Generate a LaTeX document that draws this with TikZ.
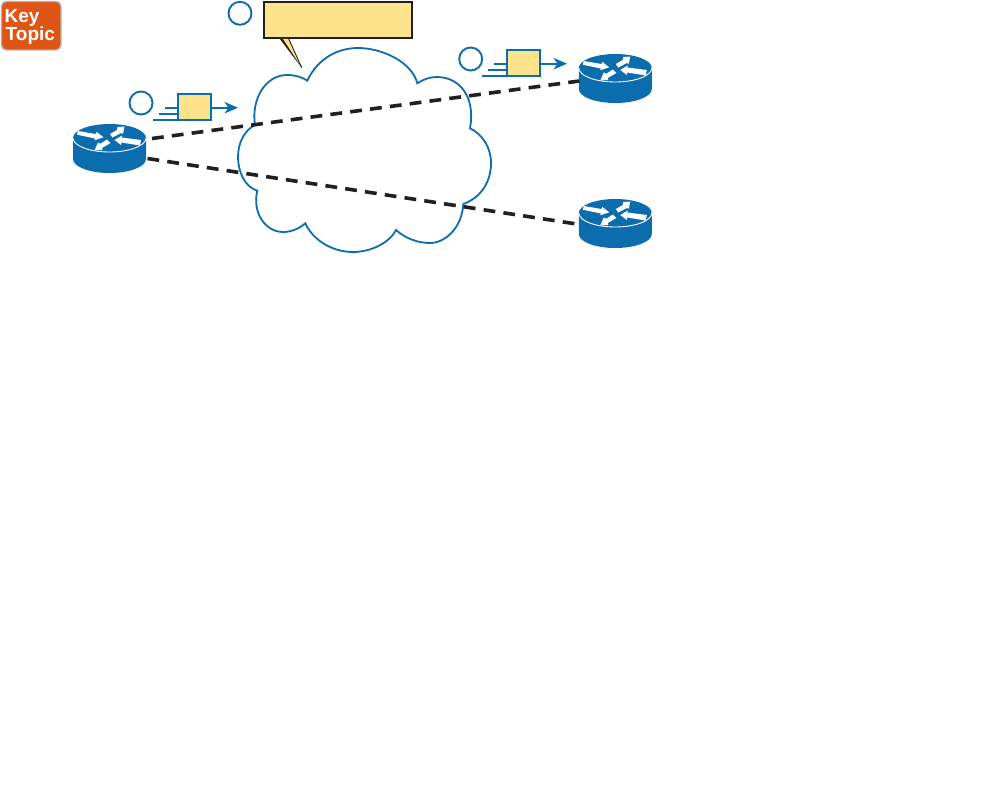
\documentclass[tikz,border=0pt]{standalone}
\usepackage{fontspec}
\setsansfont{Liberation Sans}
\usetikzlibrary{arrows.meta}
\definecolor{ciscoblue}{HTML}{0C6DAE}
\definecolor{noteyellow}{HTML}{FDE38B}
\definecolor{inkdark}{HTML}{231F20}
\definecolor{keyorange}{HTML}{DF5516}
\definecolor{keyrim}{HTML}{B5B0AB}
\tikzset{
  routerbox/.style={minimum width=73pt,minimum height=49pt,inner sep=0pt,outer sep=0pt},
  routerdraw/.pic={
    \fill[ciscoblue] (-36.5,-10.5) -- (-36.5,10.5) arc[start angle=180,end angle=360,x radius=36.5,y radius=-14] -- (36.5,-10.5) -- cycle;
    \fill[ciscoblue] (0,-10.5) ellipse[x radius=36.5,y radius=14];
    \draw[white,line width=0.9pt] (-36.5,-10.5) arc[start angle=180,end angle=360,x radius=36.5,y radius=-14];
    \fill[white] (-31.5,-17.5)--(-14,-14.5)--(-12.8,-16.5)--(-6,-11.2)--(-15,-8.2)--(-14.5,-10)--(-32.5,-13.8)--cycle;
    \fill[white] (0.5,-14.5)--(7.5,-18.5)--(8,-21.5)--(15,-22)--(13.5,-14.8)--(11.5,-15.5)--(3,-11)--cycle;
    \fill[white] (-2.5,-9)--(-9,-4.8)--(-11.5,-6)--(-15,2)--(-7,1.5)--(-7.5,-0.5)--(1,-5.5)--cycle;
    \fill[white] (5,-8.5)--(12.5,-13)--(12,-11)--(31.5,-8.5)--(30.5,-3)--(12,-6)--(11.5,-3.5)--cycle;
  },
  link/.style={draw=inkdark,line width=3.6pt,dash pattern=on 11.8pt off 8.2pt},
  cloudline/.style={draw=ciscoblue,line width=1.8pt,line join=miter},
  stepcircle/.style={circle,draw=ciscoblue,line width=1.9pt,minimum size=23pt,inner sep=0pt},
  packet/.style={draw=ciscoblue,fill=noteyellow,line width=2pt,minimum width=33pt,minimum height=26pt,inner sep=0pt},
  speedline/.style={draw=ciscoblue,line width=1.7pt},
  flow/.style={draw=ciscoblue,line width=1.8pt,-{Stealth[length=13.5pt,width=11.5pt,inset=4pt]}},
  callout/.style={draw=inkdark,fill=noteyellow,line width=2pt,minimum width=148pt,minimum height=35.5pt,inner sep=0pt},
  keybox/.style={draw=keyrim,fill=keyorange,line width=1.4pt,rounded corners=5pt,minimum width=59.5pt,minimum height=48.5pt,inner sep=0pt},
  keytext/.style={text=white,font=\sffamily\bfseries\fontsize{19}{19}\selectfont,inner sep=0pt,anchor=base west}
}
\begin{document}
\begin{tikzpicture}[x=1pt,y=-1pt]
\useasboundingbox (0,0) rectangle (990,785);
% key topic
\node[keybox] (key) at (31.2,25.7) {};
\node[keytext] (keyw) at (4.5,22.7) {Key};
\node[keytext] (topicw) at (5.5,40.7) {Topic};
% cloud
\draw[cloudline,fill=white] (255,125)
 .. controls (251,100) and (265,75) .. (287,75)
 .. controls (295,75) and (302,77) .. (307.3,80.7)
 .. controls (318,58) and (338,48) .. (358,48)
 .. controls (382,48) and (412,62) .. (417.3,83.3)
 .. controls (424,79) and (430,77) .. (437,77)
 .. controls (458,77) and (476,95) .. (470,128.3)
 .. controls (482,134) and (491,147) .. (491,163)
 .. controls (491,183) and (480,198) .. (463.3,204)
 .. controls (462,228) and (445,243) .. (430,243)
 .. controls (417,243) and (405,238) .. (396,230)
 .. controls (390,242) and (372,252) .. (353,252)
 .. controls (332,252) and (313,240) .. (305.3,223.3)
 .. controls (300,228) and (292,232) .. (283,232)
 .. controls (265,232) and (252,212) .. (257.3,190.7)
 .. controls (245,187) and (238,172) .. (238,157)
 .. controls (238,142) and (245,130) .. (255,125) -- cycle;
% routers
\node[routerbox] (r1) at (109.5,148.5) {};
\node[routerbox] (r2) at (615.3,78.5) {};
\node[routerbox] (r3) at (615.3,223.5) {};
\pic at (r1.center) {routerdraw};
\pic at (r2.center) {routerdraw};
\pic at (r3.center) {routerdraw};
% links
\draw[link] ([shift={(6,-10)}]r1.east) -- ([shift={(0.5,2.5)}]r2.west);
\draw[link] ([shift={(1.5,10)}]r1.east) -- ([shift={(-2,0.5)}]r3.west);
% step circles
\node[stepcircle] (c1) at (141,103) {};
\node[stepcircle] (c2) at (240,13.3) {};
\node[stepcircle] (c3) at (470.7,59) {};
% packets
\node[packet] (p1) at (194.7,107.3) {};
\node[packet] (p2) at (523.7,63.3) {};
\coordinate (a1) at (238,107.7);
\coordinate (a2) at (567,63.7);
\draw[flow] (p1.east |- a1) -- (a1);
\draw[flow] (p2.east |- a2) -- (a2);
\draw[speedline] ([shift={(-12,0.4)}]p1.west) -- ([shift={(0,0.4)}]p1.west);
\draw[speedline] ([shift={(-18,6.7)}]p1.west) -- ([shift={(0,6.7)}]p1.west);
\draw[speedline] ([shift={(-24,12.4)}]p1.west) -- ([shift={(0,12.4)}]p1.west);
\draw[speedline] ([shift={(-12,0.4)}]p2.west) -- ([shift={(0,0.4)}]p2.west);
\draw[speedline] ([shift={(-18,6.7)}]p2.west) -- ([shift={(0,6.7)}]p2.west);
\draw[speedline] ([shift={(-24,12.4)}]p2.west) -- ([shift={(0,12.4)}]p2.west);
% callout
\coordinate (tailtip) at (301.7,67.7);
\node[callout] (note) at (337.7,20) {};
\fill[noteyellow] ([xshift=17.5pt,yshift=-0.2pt]note.south west) -- (tailtip) -- ([xshift=26pt,yshift=-0.2pt]note.south west) -- cycle;
\fill[inkdark] ([xshift=17pt]note.south west) -- (tailtip) -- ([xshift=20pt]note.south west) -- cycle;
\draw[draw=inkdark,line width=0.9pt] (tailtip) -- ([xshift=26pt]note.south west);
\end{tikzpicture}
\end{document}
